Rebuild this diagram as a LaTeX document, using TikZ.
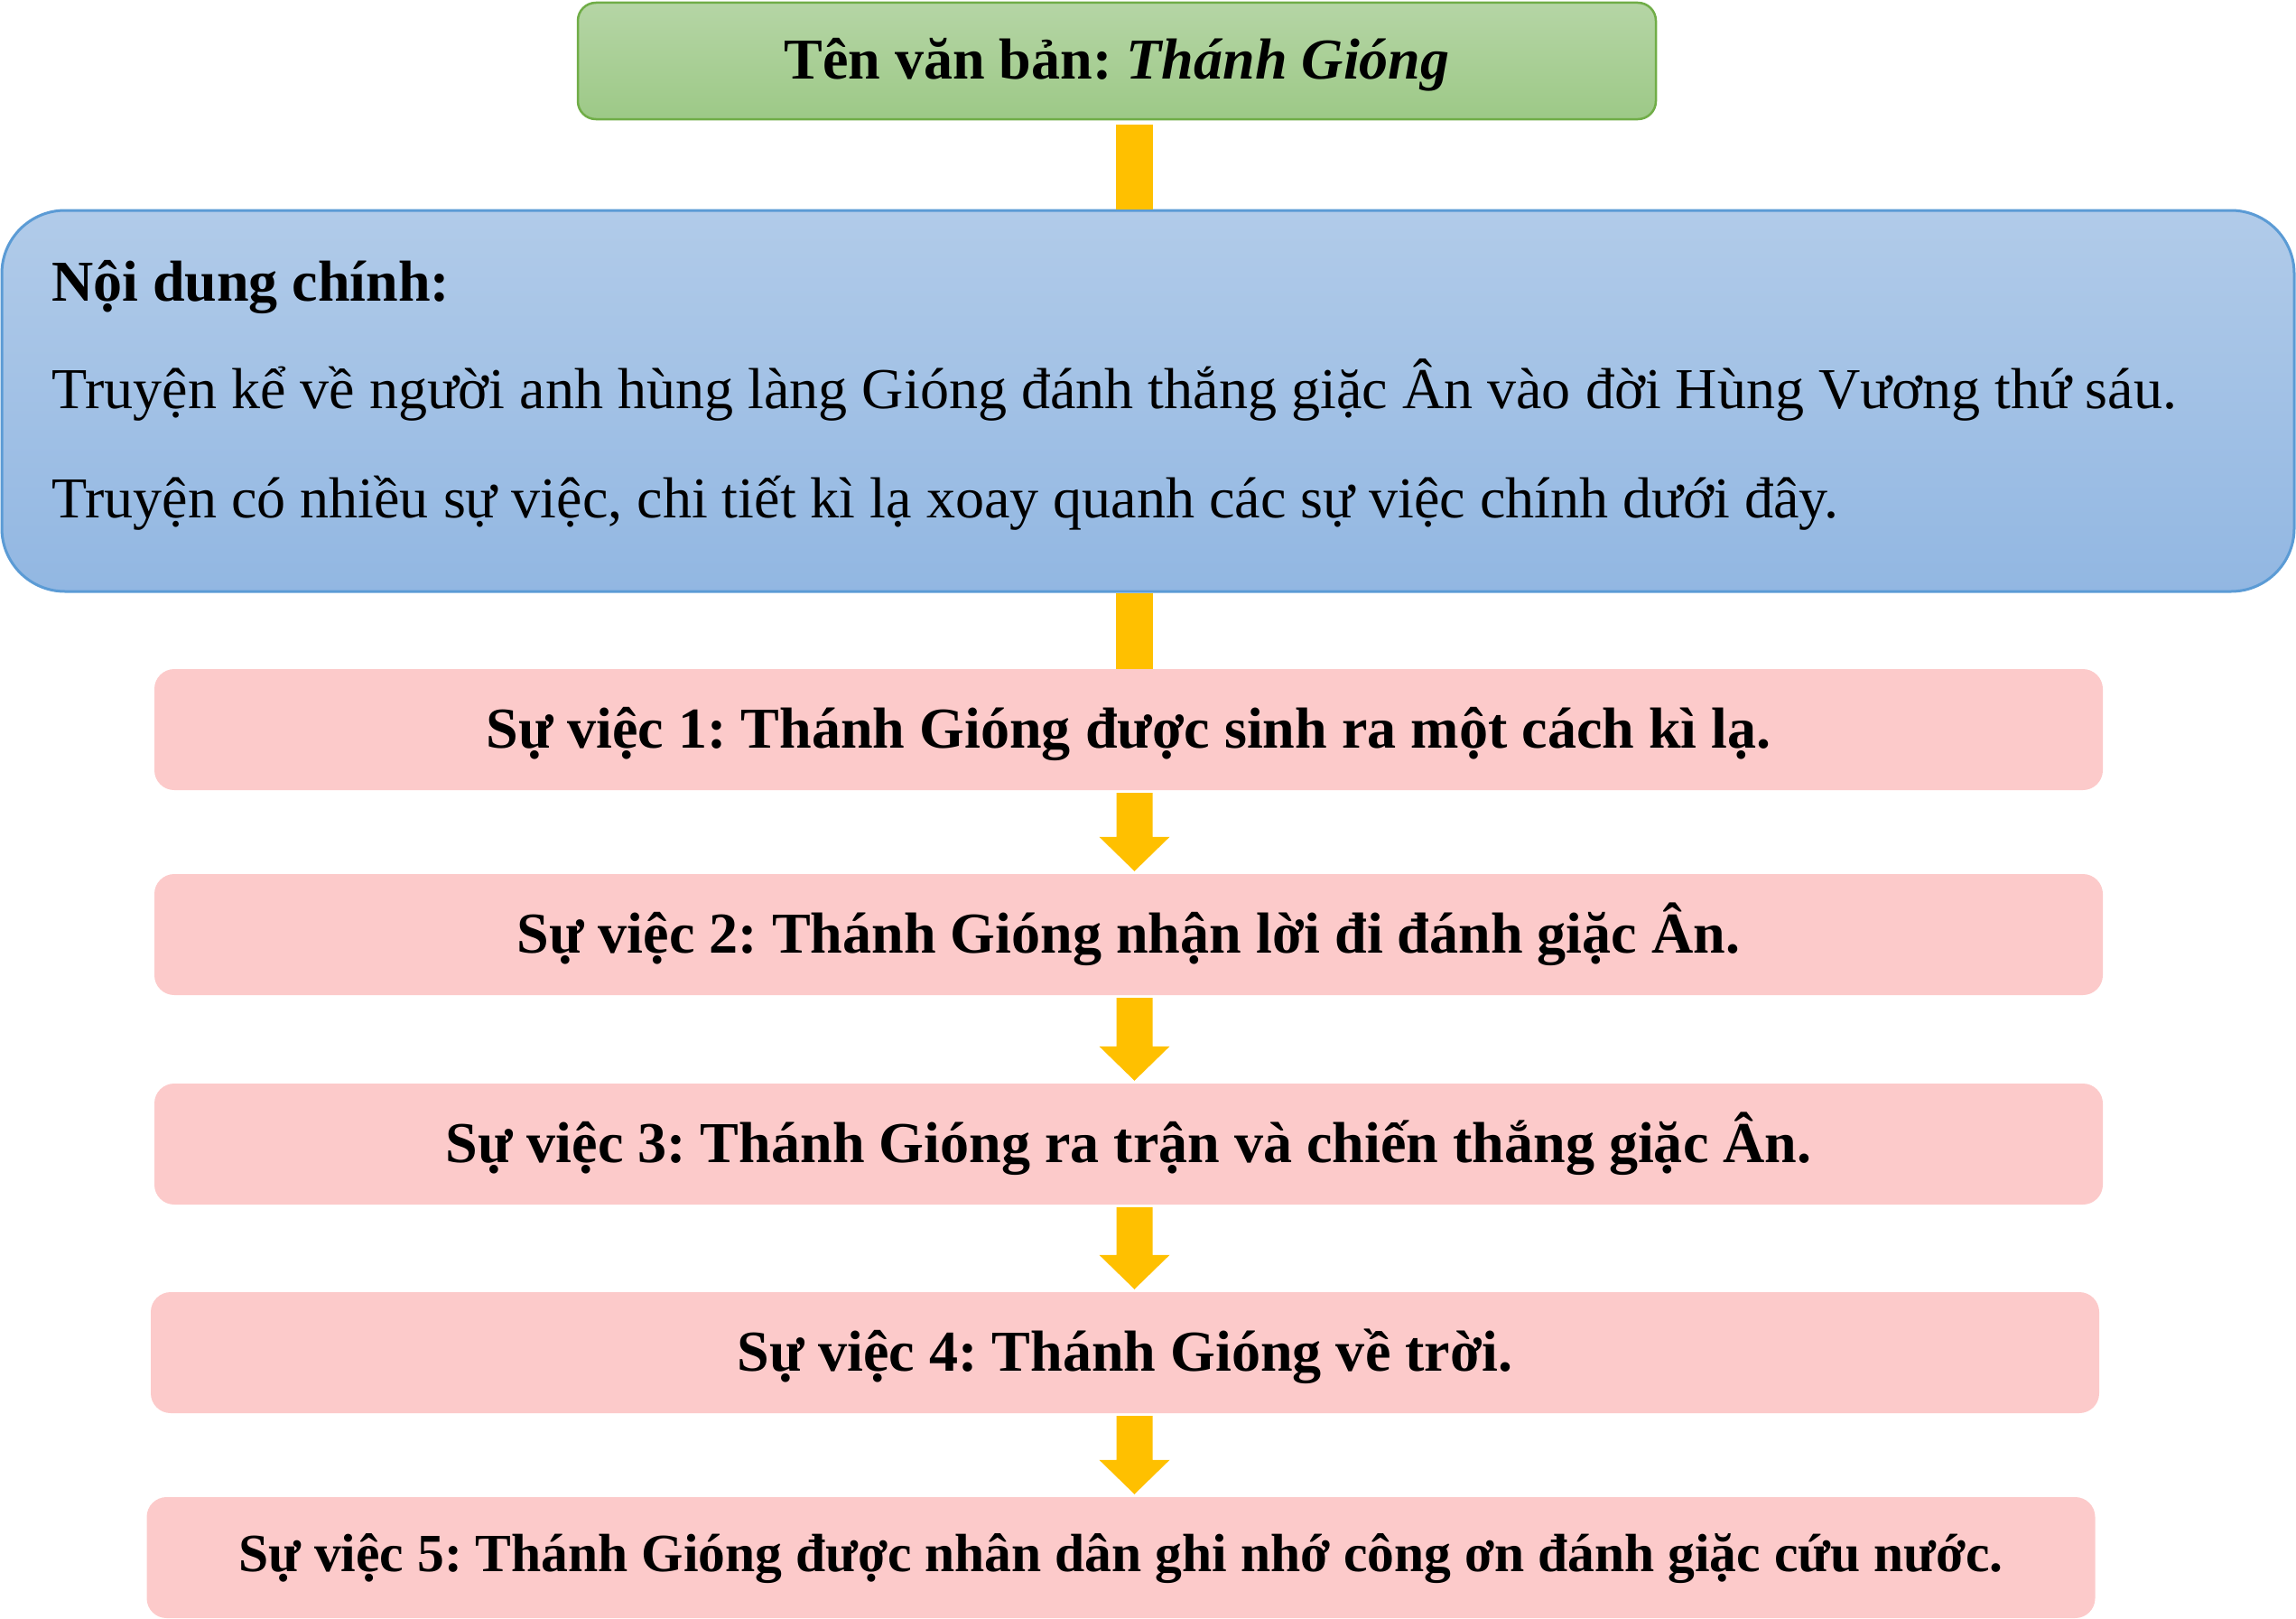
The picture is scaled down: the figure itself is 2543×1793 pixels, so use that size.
\documentclass[tikz,border=0pt]{standalone}
\usepackage{fontspec}
\setmainfont{Liberation Serif}
\usetikzlibrary{calc}
\definecolor{gtop}{HTML}{B5D5A5}
\definecolor{gbot}{HTML}{9DC987}
\definecolor{gline}{HTML}{70AD47}
\definecolor{btop}{HTML}{B1CBE9}
\definecolor{bbot}{HTML}{92B7E2}
\definecolor{bline}{HTML}{5B9BD5}
\definecolor{pinkc}{HTML}{FCCACA}
\definecolor{arrowc}{HTML}{FFC000}
\newcommand\blockarr[2]{%
  \fill[arrowc] ($(#1.south -| ax)+(-20,3)$) -- ($(#1.south -| ax)+(20,3)$)
    -- ($(#2.north -| ax)+(20,-41)$) -- ($(#2.north -| ax)+(39,-41)$)
    -- ($(#2.north -| ax)+(0,-3)$) -- ($(#2.north -| ax)+(-39,-41)$)
    -- ($(#2.north -| ax)+(-20,-41)$) -- cycle;}
\begin{document}
\frenchspacing
\begin{tikzpicture}[x=1pt,y=-1pt,
  titlebox/.style={draw=gline, line width=2.5pt, top color=gtop, bottom color=gbot,
    rounded corners=20pt, minimum width=1194pt, minimum height=129pt, inner sep=0pt,
    font=\fontsize{64.1}{70}\selectfont\bfseries, text height=40pt, text depth=0pt},
  mainbox/.style={draw=bline, line width=3pt, top color=btop, bottom color=bbot,
    rounded corners=70pt, minimum width=2539pt, minimum height=422pt, inner sep=0pt},
  bodytext/.style={anchor=base west, inner sep=0pt, font=\fontsize{64.1}{70}\selectfont},
  eventbox/.style={fill=pinkc, rounded corners=22pt, minimum width=2158pt,
    minimum height=134pt, inner sep=0pt,
    font=\fontsize{64.1}{70}\selectfont\bfseries, text height=40pt, text depth=0pt},
  barc/.style={draw=arrowc, line width=41pt}]
\useasboundingbox (0,0) rectangle (2543,1793);
\coordinate (ax) at (1256.5,0);

\node[titlebox] (title) at (1237,67.5) {Tên văn bản: \textit{Thánh Gióng}};
\node[mainbox] (main) at (1271.5,444) {};
\draw[barc] ($(title.south -| ax)+(0,5)$) -- (main.north -| ax);

\node[bodytext, font=\fontsize{64}{70}\selectfont\bfseries] (head) at (57,333) {Nội dung chính:};
\node[bodytext] (line1) at (57,452) {Truyện kể về người anh hùng làng Gióng đánh thắng giặc Ân vào đời Hùng Vương thứ sáu.};
\node[bodytext] (line2) at (57,573) {Truyện có nhiều sự việc, chi tiết kì lạ xoay quanh các sự việc chính dưới đây.};

\node[eventbox] (e1) at (1250,808) {Sự việc 1: Thánh Gióng được sinh ra một cách kì lạ.};
\node[eventbox] (e2) at (1250,1035) {Sự việc 2: Thánh Gióng nhận lời đi đánh giặc Ân.};
\node[eventbox] (e3) at (1250,1267) {Sự việc 3: Thánh Gióng ra trận và chiến thắng giặc Ân.};
\node[eventbox] (e4) at (1246,1498) {Sự việc 4: Thánh Gióng về trời.};
\node[eventbox, font=\fontsize{59.6}{66}\selectfont\bfseries, text height=30pt] (e5) at (1241.5,1725) {Sự việc 5: Thánh Gióng được nhân dân ghi nhớ công ơn đánh giặc cứu nước.};

\draw[barc] (main.south -| ax) -- (e1.north -| ax);
\blockarr{e1}{e2}
\blockarr{e2}{e3}
\blockarr{e3}{e4}
\blockarr{e4}{e5}
\end{tikzpicture}
\end{document}
